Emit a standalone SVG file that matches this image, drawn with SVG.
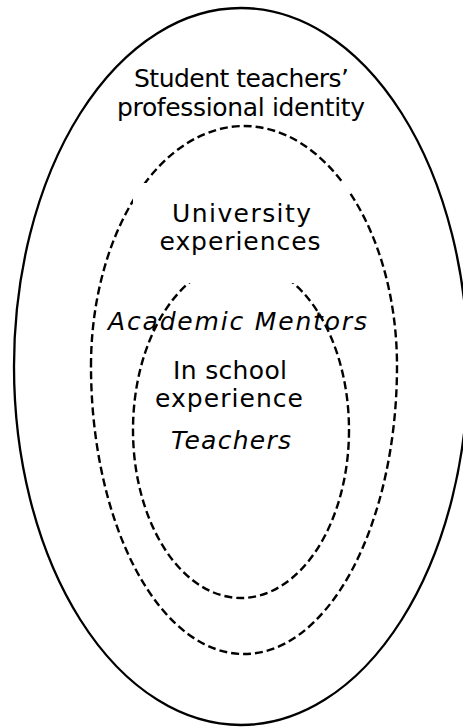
<svg xmlns="http://www.w3.org/2000/svg" width="463" height="727" viewBox="0 0 463 727">
<style>
.solid{fill:none;stroke:#000;stroke-width:2.3}
.dash{fill:none;stroke:#000;stroke-width:2.4;stroke-dasharray:8 4}
.t{font-family:"DejaVu Sans","Verdana",sans-serif;font-size:25px;fill:#000;text-anchor:middle}
.i{font-style:italic}
</style>
<rect x="0" y="0" width="463" height="727" fill="#fff"/>
<g id="outer">
<ellipse class="solid" cx="241" cy="366.5" rx="227" ry="358.5"/>
<text class="t" x="241.5" y="87" textLength="215" lengthAdjust="spacing">Student teachers’</text>
<text class="t" x="241" y="116" textLength="248" lengthAdjust="spacing">professional identity</text>
</g>
<g id="university">
<path class="dash" d="M 91 366 A 153 240 0 0 1 397 366 A 153 288 0 0 1 91 366 Z"/>
</g>
<g id="school">
<ellipse class="dash" cx="241" cy="430" rx="108" ry="168"/>
</g>
<g id="university-label">
<rect x="133" y="183" width="216" height="100" fill="#fff"/>
<text class="t" x="241.5" y="222" textLength="139" lengthAdjust="spacing">University</text>
<text class="t" x="240" y="250" textLength="161" lengthAdjust="spacing">experiences</text>
</g>
<g id="academic-mentors">
<text class="t i" x="237.5" y="330" textLength="259" lengthAdjust="spacing">Academic Mentors</text>
</g>
<g id="school-label">
<text class="t" x="230" y="379" textLength="114" lengthAdjust="spacing">In school</text>
<text class="t" x="229" y="407" textLength="148" lengthAdjust="spacing">experience</text>
<text class="t i" x="231" y="449" textLength="120" lengthAdjust="spacing">Teachers</text>
</g>
<g id="connectors"></g>
</svg>
